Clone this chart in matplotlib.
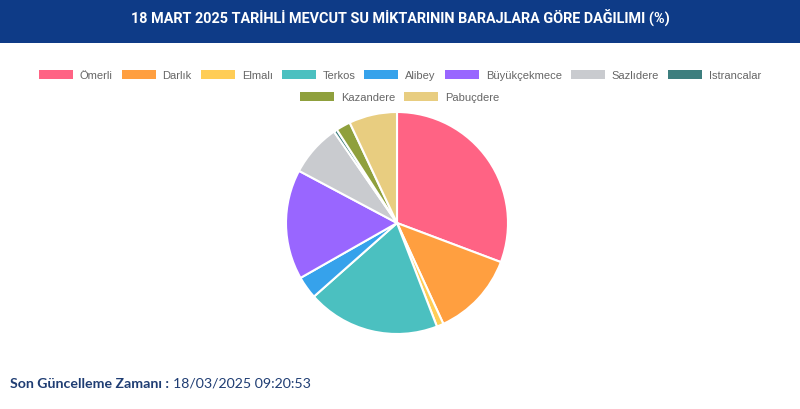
import matplotlib
matplotlib.use("Agg")
import matplotlib.pyplot as plt
from matplotlib.patches import Rectangle, Patch

title = "18 MART 2025 TARİHLİ MEVCUT SU MİKTARININ BARAJLARA GÖRE DAĞILIMI (%)"
dams = ["Ömerli", "Darlık", "Elmalı", "Terkos", "Alibey", "Büyükçekmece",
        "Sazlıdere", "Istrancalar", "Kazandere", "Pabuçdere"]
shares = [30.7, 12.4, 1.0, 19.3, 3.3, 16.0, 7.6, 0.5, 2.1, 7.0]
colors = ["#ff6384", "#ff9f40", "#ffcd56", "#4bc0c0", "#36a2eb", "#9966ff",
          "#c9cbcf", "#3d7e7e", "#8fa03d", "#e8cd80"]
update_label = "Son Güncelleme Zamanı :"
update_value = "18/03/2025 09:20:53"

W, H = 800, 410
fig = plt.figure(figsize=(W / 100, H / 100), dpi=100)
fig.patch.set_facecolor("white")

# header banner
fig.patches.append(Rectangle((0, 1 - 44 / H), 1, 44 / H, transform=fig.transFigure,
                             facecolor="#0e3b87", edgecolor="none", zorder=0))
fig.text(0.5, 1 - 18 / H, title, color="white", fontsize=10.4, fontweight="bold",
         family="Roboto", ha="center", va="center")

# pie
cx, cy, r = 397, 224, 111
ax = fig.add_axes([(cx - r) / W, (H - cy - r) / H, 2 * r / W, 2 * r / H])
ax.pie(shares, colors=colors, startangle=90, counterclock=False,
       wedgeprops=dict(edgecolor="white", linewidth=1.5))
ax.set_xlim(-1, 1)
ax.set_ylim(-1, 1)
ax.set_aspect("equal")
ax.axis("off")

# legend (two rows, centered)
handles = [Patch(facecolor=c, edgecolor="none") for c in colors]
common = dict(frameon=False, handlelength=3.06, handleheight=0.9,
              handletextpad=0.63, columnspacing=0.8,
              prop={"family": "Liberation Sans", "size": 8})
leg1 = fig.legend(handles[:8], dams[:8], ncol=8, loc="center",
                  bbox_to_anchor=(0.5, 1 - 76 / H), **common)
leg2 = fig.legend(handles[8:], dams[8:], ncol=2, loc="center",
                  bbox_to_anchor=(0.5, 1 - 98 / H), **common)
for leg in (leg1, leg2):
    for t in leg.get_texts():
        t.set_color("#666666")

# footer
t1 = fig.text(10 / W, 1 - 384 / H, update_label, color="#1f3d73", fontsize=10.2,
              fontweight="bold", family="Lato", ha="left", va="center")
fig.canvas.draw()
bb = t1.get_window_extent()
fig.text((bb.x1 + 4) / W, 1 - 384 / H, update_value, color="#1f3d73", fontsize=10.2,
         family="Lato", ha="left", va="center")

fig.savefig("out.png", dpi=100)
